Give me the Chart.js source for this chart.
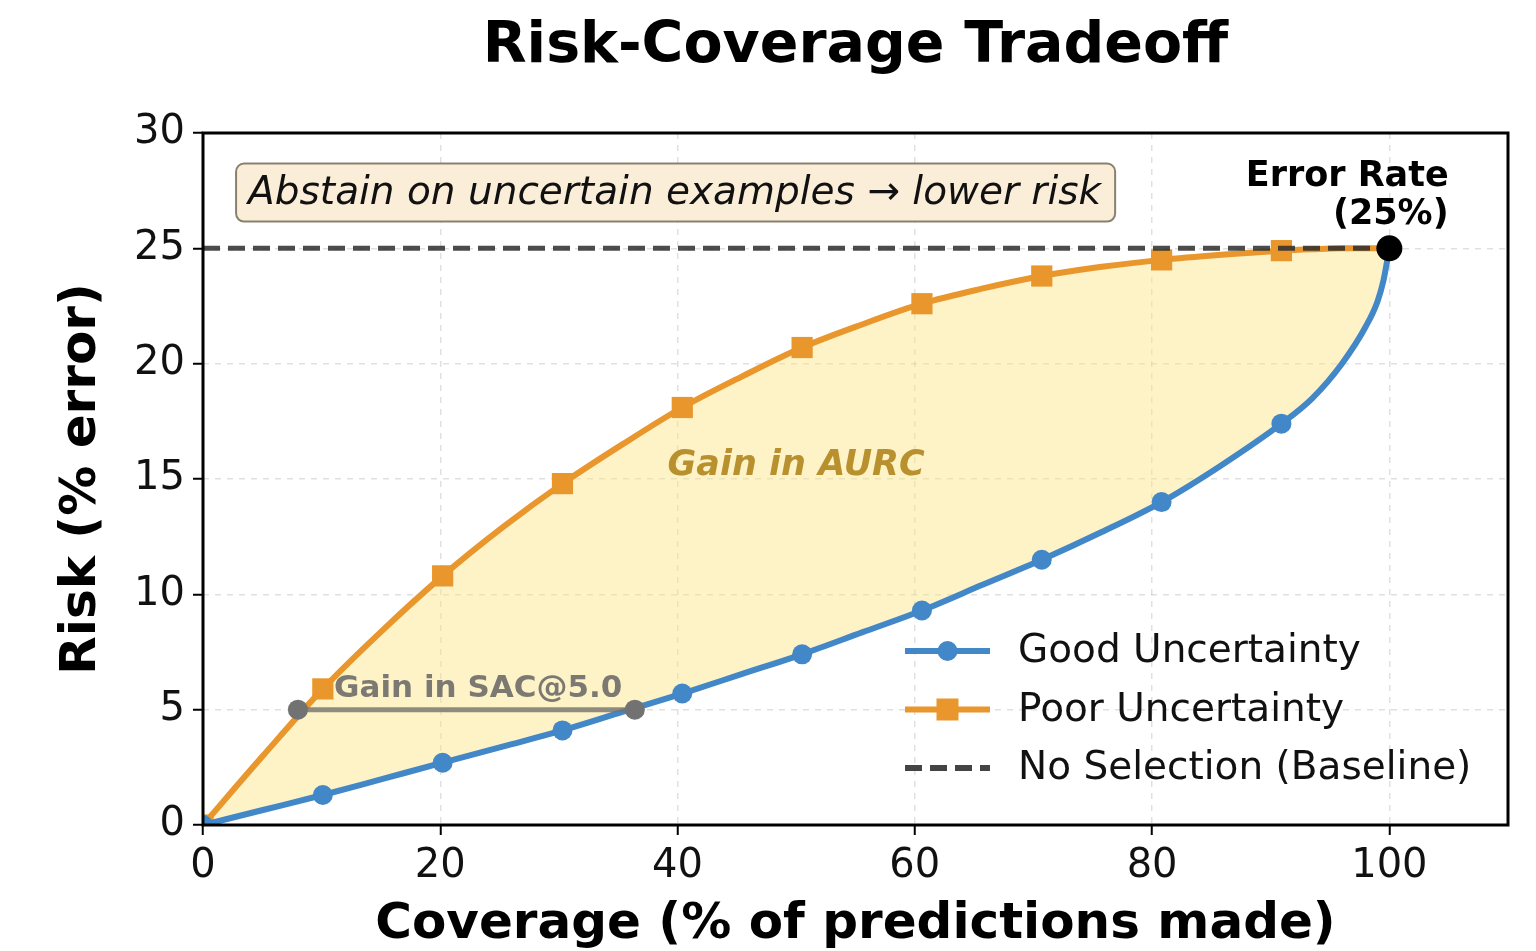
<!DOCTYPE html>
<html>
<head>
<meta charset="utf-8">
<script src="https://cdn.jsdelivr.net/npm/chart.js@4.4.1/dist/chart.umd.min.js"></script>
<style>
  html, body { margin: 0; padding: 0; background: #fff; }
  #wrap { width: 1536px; height: 951px; }
</style>
</head>
<body>
<div id="wrap"><canvas id="riskChart" width="1536" height="951"></canvas></div>
<script>
// values
const coverage = [0, 5.05, 10.1, 15.15, 20.2, 25.25, 30.3, 35.35, 40.4, 45.45, 50.5, 55.55, 60.6, 65.65, 70.7, 75.75, 80.8, 85.85, 90.9, 93.5, 96, 98, 99, 99.5, 100];
const riskGood = [0, 0.65, 1.3, 2.0, 2.7, 3.4, 4.1, 4.9, 5.7, 6.55, 7.4, 8.35, 9.3, 10.4, 11.5, 12.7, 14.0, 15.6, 17.4, 18.5, 20.0, 21.6, 22.7, 23.6, 25];
const riskPoor = [0, 3.0, 5.9, 8.45, 10.8, 12.9, 14.8, 16.5, 18.1, 19.45, 20.7, 21.7, 22.6, 23.25, 23.8, 24.2, 24.5, 24.72, 24.9, 24.96, 25, 25, 25, 25, 25];
const markerAt = [0, 10.1, 20.2, 30.3, 40.4, 50.5, 60.6, 70.7, 80.8, 90.9];

const baselineCoverage = [0, 100];
const baselineRisk = [25, 25];
const sacCoverage = [8.0, 36.4];
const sacRisk = [5, 5];
const errorCoverage = [100];
const errorRisk = [25];

const xTicks = [0, 20, 40, 60, 80, 100];
const yTicks = [0, 5, 10, 15, 20, 25, 30];

const FONT = '"DejaVu Sans", sans-serif';
const BLUE = '#4287c8';
const ORANGE = '#e9962c';
const FILL = 'rgba(253, 226, 130, 0.45)';

function toPoints(xs, ys) {
    return xs.map((x, i) => ({ x: x, y: ys[i] }));
}

function markerRadius(size) {
    return ctx => (ctx.raw && markerAt.includes(ctx.raw.x)) ? size : 0;
}

const legendItems = [
    { label: 'Good Uncertainty', color: BLUE, marker: 'circle' },
    { label: 'Poor Uncertainty', color: ORANGE, marker: 'rect' },
    { label: 'No Selection (Baseline)', color: '#444444', marker: 'dash' }
];

const overlayPlugin = {
    id: 'overlay',
    afterDraw(chart) {
        const ctx = chart.ctx;
        const xs = chart.scales.x;
        const ys = chart.scales.y;
        const area = chart.chartArea;
        const px = v => xs.getPixelForValue(v);
        const py = v => ys.getPixelForValue(v);

        ctx.save();

        // text box
        ctx.font = 'italic 39px ' + FONT;
        const boxText = 'Abstain on uncertain examples \u2192 lower risk';
        const tw = ctx.measureText(boxText).width;
        const tx = px(3.8), ty = py(27.42);
        ctx.beginPath();
        ctx.roundRect(tx - 12, ty - 29, tw + 26, 58, 8);
        ctx.fillStyle = '#faeed9';
        ctx.fill();
        ctx.lineWidth = 2;
        ctx.strokeStyle = '#8a8070';
        ctx.stroke();
        ctx.fillStyle = '#111';
        ctx.textBaseline = 'middle';
        ctx.textAlign = 'left';
        ctx.fillText(boxText, tx, ty + 1);

        // Gain in AURC
        ctx.font = 'italic bold 35px ' + FONT;
        ctx.fillStyle = '#b8912e';
        ctx.textAlign = 'center';
        ctx.fillText('Gain in AURC', px(50), py(15.55));

        // Gain in SAC
        ctx.font = 'bold 31px ' + FONT;
        ctx.fillStyle = 'rgba(100, 100, 100, 0.85)';
        ctx.fillText('Gain in SAC@5.0', px(23.2), py(5.9));

        // Error rate label
        ctx.font = 'bold 35px ' + FONT;
        ctx.fillStyle = '#000';
        ctx.textAlign = 'right';
        ctx.fillText('Error Rate', px(105), py(28.1));
        ctx.fillText('(25%)', px(105), py(26.45));

        // legend
        ctx.font = '39px ' + FONT;
        ctx.textAlign = 'left';
        legendItems.forEach((item, i) => {
            const y = area.bottom - 174 + i * 58.5;
            const x0 = area.right - 603;
            const x1 = x0 + 85;
            ctx.strokeStyle = item.color;
            ctx.lineWidth = 6;
            ctx.setLineDash(item.marker === 'dash' ? [17, 8] : []);
            ctx.beginPath();
            ctx.moveTo(x0, y);
            ctx.lineTo(x1, y);
            ctx.stroke();
            ctx.setLineDash([]);
            ctx.fillStyle = item.color;
            const cx = (x0 + x1) / 2;
            if (item.marker === 'circle') {
                ctx.beginPath();
                ctx.arc(cx, y, 10, 0, Math.PI * 2);
                ctx.fill();
            } else if (item.marker === 'rect') {
                ctx.fillRect(cx - 11, y - 11, 22, 22);
            }
            ctx.fillStyle = '#111';
            ctx.fillText(item.label, x1 + 28, y + 1);
        });

        // frame
        ctx.strokeStyle = '#000';
        ctx.lineWidth = 3;
        ctx.strokeRect(area.left, area.top, area.right - area.left, area.bottom - area.top);
        ctx.restore();
    }
};

const ctx = document.getElementById('riskChart').getContext('2d');
new Chart(ctx, {
    type: 'line',
    data: {
        datasets: [
            {
                label: 'Error Rate',
                data: toPoints(errorCoverage, errorRisk),
                showLine: false,
                pointRadius: 13,
                pointBackgroundColor: '#000',
                pointBorderWidth: 0,
                order: 0
            },
            {
                label: 'SAC',
                data: toPoints(sacCoverage, sacRisk),
                borderColor: 'rgba(115, 115, 110, 0.8)',
                borderWidth: 5,
                pointRadius: 10,
                pointBackgroundColor: '#727272',
                pointBorderWidth: 0,
                order: 1
            },
            {
                label: 'No Selection (Baseline)',
                data: toPoints(baselineCoverage, baselineRisk),
                borderColor: 'rgba(45, 45, 45, 0.85)',
                borderWidth: 5,
                borderDash: [17, 8],
                pointRadius: 0,
                order: 2
            },
            {
                label: 'Good Uncertainty',
                data: toPoints(coverage, riskGood),
                borderColor: BLUE,
                borderWidth: 6,
                cubicInterpolationMode: 'monotone',
                pointRadius: markerRadius(10),
                pointBackgroundColor: BLUE,
                pointBorderWidth: 0,
                fill: false,
                order: 3
            },
            {
                label: 'Poor Uncertainty',
                data: toPoints(coverage, riskPoor),
                borderColor: ORANGE,
                borderWidth: 6,
                cubicInterpolationMode: 'monotone',
                pointStyle: 'rect',
                pointRadius: markerRadius(15),
                pointBackgroundColor: ORANGE,
                pointBorderWidth: 0,
                fill: { target: 3, above: FILL, below: FILL },
                order: 4
            }
        ]
    },
    options: {
        responsive: false,
        animation: false,
        devicePixelRatio: 1,
        events: [],
        layout: { padding: { top: 0, right: 28, left: 0, bottom: 0 } },
        plugins: {
            legend: { display: false },
            tooltip: { enabled: false },
            title: {
                display: true,
                text: 'Risk-Coverage Tradeoff',
                fullSize: false,
                color: '#000',
                font: { family: FONT, size: 57, weight: 'bold', lineHeight: 1 },
                padding: { top: 19, bottom: 57 }
            }
        },
        scales: {
            x: {
                type: 'linear',
                min: 0,
                max: 110,
                afterFit: scale => { scale.height = 126; },
                afterBuildTicks: scale => { scale.ticks = xTicks.map(v => ({ value: v })); },
                ticks: {
                    color: '#111',
                    font: { family: FONT, size: 40 },
                    padding: 8,
                    maxRotation: 0
                },
                grid: {
                    color: 'rgba(0, 0, 0, 0.12)',
                    lineWidth: 1.5,
                    tickColor: '#000',
                    tickLength: 10,
                    tickWidth: 2,
                    tickBorderDash: []
                },
                border: { display: false, dash: [6, 6] },
                title: {
                    display: true,
                    text: 'Coverage (% of predictions made)',
                    color: '#000',
                    font: { family: FONT, size: 50, weight: 'bold', lineHeight: 1 },
                    padding: { top: 0, bottom: 1 }
                }
            },
            y: {
                min: 0,
                max: 30,
                afterFit: scale => { scale.width = 203; },
                afterBuildTicks: scale => { scale.ticks = yTicks.map(v => ({ value: v })); },
                ticks: {
                    color: '#111',
                    font: { family: FONT, size: 40 },
                    padding: 8
                },
                grid: {
                    color: 'rgba(0, 0, 0, 0.12)',
                    lineWidth: 1.5,
                    tickColor: '#000',
                    tickLength: 10,
                    tickWidth: 2,
                    tickBorderDash: []
                },
                border: { display: false, dash: [6, 6] },
                title: {
                    display: true,
                    text: 'Risk (% error)',
                    color: '#000',
                    font: { family: FONT, size: 50, weight: 'bold', lineHeight: 1 },
                    padding: { top: 57, bottom: 0 }
                }
            }
        }
    },
    plugins: [overlayPlugin]
});
</script>
</body>
</html>
